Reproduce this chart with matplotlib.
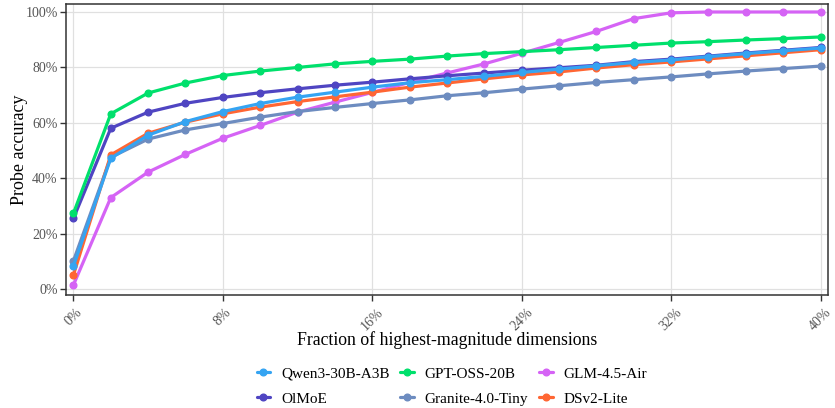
import matplotlib
matplotlib.use("Agg")
import matplotlib.pyplot as plt
from matplotlib.ticker import FuncFormatter

x = [0, 2, 4, 6, 8, 10, 12, 14, 16, 18, 20, 22, 24, 26, 28, 30, 32, 34, 36, 38, 40]

qwen = [8.4, 47.3, 55.6, 60.5, 64.1, 67.0, 69.3, 71.1, 72.9, 74.5, 75.6, 76.8, 78.2, 79.4, 80.6, 81.8, 82.7, 83.9, 85.0, 86.0, 87.0]
gpt = [27.4, 63.3, 70.8, 74.4, 77.1, 78.7, 80.0, 81.3, 82.2, 83.0, 84.1, 85.0, 85.7, 86.4, 87.2, 88.0, 88.8, 89.3, 89.9, 90.4, 91.0]
glm = [1.6, 33.1, 42.3, 48.7, 54.5, 59.1, 63.9, 67.5, 71.0, 74.6, 78.0, 81.3, 85.1, 89.0, 93.0, 97.6, 99.7, 100.0, 100.0, 100.0, 100.0]
olmoe = [25.6, 58.1, 63.9, 67.1, 69.2, 70.9, 72.3, 73.6, 74.7, 75.9, 77.0, 78.0, 79.0, 79.9, 80.8, 82.1, 83.0, 84.1, 85.2, 86.2, 87.2]
granite = [10.3, 47.6, 54.2, 57.5, 59.8, 62.1, 64.1, 65.6, 67.0, 68.3, 69.8, 70.9, 72.2, 73.4, 74.6, 75.6, 76.6, 77.7, 78.7, 79.6, 80.5]
dsv2 = [5.2, 48.5, 56.3, 60.3, 63.3, 65.7, 67.7, 69.4, 71.1, 72.9, 74.4, 75.9, 77.3, 78.4, 79.8, 81.0, 82.0, 83.1, 84.2, 85.3, 86.4]

names = ["Qwen3-30B-A3B", "GPT-OSS-20B", "GLM-4.5-Air", "OlMoE", "Granite-4.0-Tiny", "DSv2-Lite"]
series = [qwen, gpt, glm, olmoe, granite, dsv2]
colors = ["#35a4f2", "#00e06c", "#d563f5", "#4f45c2", "#6d8cc0", "#ff6633"]
zorders = [6, 7, 3, 5, 4, 4.5]

xticks = [0, 8, 16, 24, 32, 40]
yticks = [0, 20, 40, 60, 80, 100]

plt.rcParams['font.family'] = ['Liberation Serif', 'DejaVu Serif']

fig = plt.figure(figsize=(8.35, 4.08), dpi=100)
ax = fig.add_axes([0.079, 0.277, 0.9126, 0.712])

handles = {}
for name, s, c, z in zip(names, series, colors, zorders):
    h, = ax.plot(x, s, color=c, lw=2.3, marker='o', ms=4.8, zorder=z, label=name,
                 solid_capstyle='round')
    handles[name] = h

ax.set_xlim(-0.4, 40.4)
ax.set_ylim(-2.0, 102.7)
ax.set_xticks(xticks)
ax.set_yticks(yticks)
ax.xaxis.set_major_formatter(FuncFormatter(lambda v, p: f"{int(v)}%"))
ax.yaxis.set_major_formatter(FuncFormatter(lambda v, p: f"{int(v)}%"))
ax.grid(True, color="#e0e0e0", lw=0.9, zorder=0)
ax.set_axisbelow(True)
for sp in ax.spines.values():
    sp.set_color("#333333")
    sp.set_linewidth(1.1)
ax.tick_params(axis='both', direction='out', length=4, width=1, color="#333333",
               labelcolor="#555555", labelsize=10)
ax.tick_params(axis='y', pad=2)
for lab in ax.get_xticklabels():
    lab.set_rotation(45)
    lab.set_ha('center')
    lab.set_va('top')

ax.set_xlabel("Fraction of highest-magnitude dimensions", fontsize=12.8, va='center')
ax.xaxis.set_label_coords(0.5, -0.155)
ax.set_ylabel("Probe accuracy", fontsize=13, va='center')
ax.yaxis.set_label_coords(-0.0605, 0.5)

order = ["Qwen3-30B-A3B", "OlMoE", "GPT-OSS-20B", "Granite-4.0-Tiny", "GLM-4.5-Air", "DSv2-Lite"]
fig.legend([handles[n] for n in order], order, ncol=3, loc='center',
           bbox_to_anchor=(0.541, 0.053), frameon=False, fontsize=11,
           handlelength=0.9, columnspacing=0.7, handletextpad=0.7, labelspacing=0.75,
           borderpad=0)

fig.savefig("out.png", dpi=100)
